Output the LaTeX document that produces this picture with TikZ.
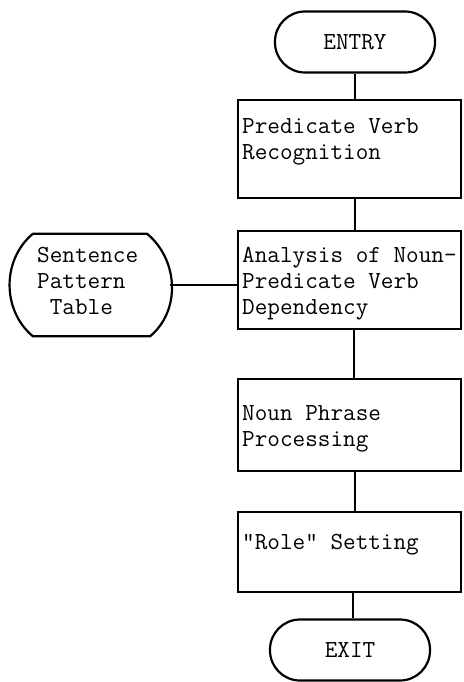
\documentclass[tikz,border=0pt]{standalone}
\usepackage{fontspec}
\usetikzlibrary{calc}
\newcommand{\mylines}[1]{\begin{tabular}[t]{@{}l@{}}#1\end{tabular}}
\begin{document}
\begin{tikzpicture}[x=1pt,y=-1pt,
  every node/.style={font=\ttfamily\fontsize{24.5}{26}\selectfont},
  line/.style={line width=2.2pt},
  proc/.style={draw, line width=2.2pt, rectangle, minimum width=223pt, inner sep=0pt},
  term/.style={draw, line width=2.2pt, rectangle, rounded corners=30pt, minimum width=160pt, minimum height=61pt, inner sep=0pt},
  txt/.style={anchor=base west, inner sep=0pt}]
\useasboundingbox (0,0) rectangle (463,682);
% terminals
\node[term] (entry) at (355,42) {ENTRY};
\node[term] (exit) at (350,650) {EXIT};
% process boxes
\node[proc, minimum height=98pt] (b1) at (349.5,149) {};
\node[proc, minimum height=98pt] (b2) at (349.5,280) {};
\node[proc, minimum height=92pt] (b3) at (349.5,425) {};
\node[proc, minimum height=80pt] (b4) at (349.5,552) {};
\node[txt] (t1) at (242,133) {\mylines{Predicate Verb\\Recognition}};
\node[txt] (t2) at (242,262) {\mylines{Analysis of Noun-\\Predicate Verb\\Dependency}};
\node[txt] (t3) at (242,420) {\mylines{Noun Phrase\\Processing}};
\node[txt] (t4) at (242,549) {"Role" Setting};
% sentence pattern table
\node[minimum width=162pt, minimum height=102pt, inner sep=0pt] (tbl) at (89,285) {};
\node[txt] (tt) at (37,262) {\mylines{Sentence\\Pattern\\\phantom{T}Table}};
\draw[line, line join=round]
  ($(tbl.north west)+(25,0)$) -- ($(tbl.north east)+(-23,0)$)
  .. controls ($(tbl.north east)+(8,26)$) and ($(tbl.south east)+(11,-26)$) .. ($(tbl.south east)+(-20,0)$)
  -- ($(tbl.south west)+(25,0)$)
  .. controls ($(tbl.south west)+(-6,-26)$) and ($(tbl.north west)+(-6,26)$) .. cycle;
% connectors
\draw[line] (entry.south) -- (entry.south |- b1.north);
\draw[line] (b1.south -| entry.south) -- (b2.north -| entry.south);
\draw[line] ([xshift=-1pt]b2.south -| entry.south) -- ([xshift=-1pt]b3.north -| entry.south);
\draw[line] (b3.south -| entry.south) -- (b4.north -| entry.south);
\draw[line] ([xshift=-2pt]b4.south -| entry.south) -- ([xshift=-2pt]exit.north -| entry.south);
\draw[line] (tbl.east) -- (tbl.east -| b2.west);
\end{tikzpicture}
\end{document}
